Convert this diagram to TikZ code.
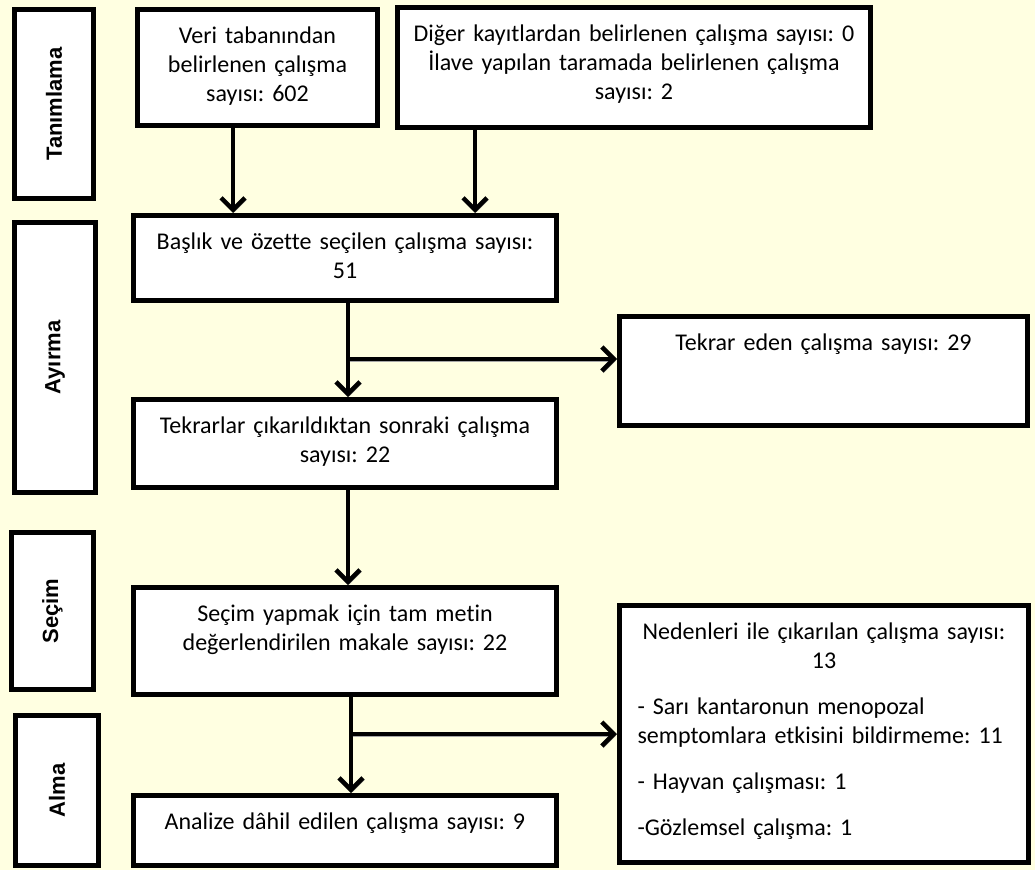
\documentclass[tikz,border=0pt]{standalone}
\usepackage{fontspec}
\setmainfont{Carlito}[Ligatures=NoCommon]
\newfontfamily\stagefont{Liberation Sans}
\usepackage{tikz}
\usetikzlibrary{arrows.meta,positioning}
\definecolor{paper}{RGB}{255,255,225}
\frenchspacing

\begin{document}
\begin{tikzpicture}[
        x=1pt, y=-1pt,
        >={Straight Barb[length=12pt,width=24pt]},
        box/.style={rectangle, draw, line width=5pt, fill=white, inner xsep=0pt, inner ysep=14pt, text height=20pt, align=center, font=\fontsize{24}{29}\selectfont},
        stagebox/.style={rectangle, draw, line width=5pt, fill=white, rotate=90, inner sep=0pt, font=\stagefont\bfseries\fontsize{22}{26}\selectfont},
        flowline/.style={->, line width=4.5pt, preaction={draw=black!35, transform canvas={shift={(1.5pt,-2pt)}}}},
        ]

        % Page background
        \fill[paper] (0,0) rectangle (1035,870);
        \useasboundingbox (0,0) rectangle (1035,870);

        % Stage labels on the left
        \node[stagebox, minimum width=189pt, minimum height=79pt] (tanim) at (54,104) {Tanımlama};
        \node[stagebox, minimum width=270pt, minimum height=81pt] (ayir) at (55,357.5) {Ayırma};
        \node[stagebox, minimum width=157pt, minimum height=82pt] (secim) at (52.5,611) {Seçim};
        \node[stagebox, minimum width=150pt, minimum height=83pt] (alma) at (57,790.5) {Alma};

        % Identification
        \node[box, text width=240pt, text depth=68pt] (veri) at (257.5,67.5) {Veri tabanından\\belirlenen çalışma\\sayısı: 602};
        \node[box, right=15pt of veri, text width=473pt, text depth=72pt] (diger) {Diğer kayıtlardan belirlenen çalışma sayısı: 0\\İlave yapılan taramada belirlenen çalışma\\sayısı: 2};

        % Main column
        \node[box, text width=423pt, text depth=37pt] (baslik) at (345,258) {Başlık ve özette seçilen çalışma sayısı:\\51};
        \node[box, below=94pt of baslik, text width=423pt, text depth=40pt] (tekrarlar) {Tekrarlar çıkarıldıktan sonraki çalışma\\sayısı: 22};
        \node[box, below=95pt of tekrarlar, text width=423pt, text depth=59pt] (secimyap) {Seçim yapmak için tam metin\\değerlendirilen makale sayısı: 22};
        \node[box, below=96pt of secimyap, text width=423pt, text depth=22pt] (analiz) {Analize dâhil edilen çalışma sayısı: 9};

        % Excluded records
        \node[box, text width=408pt, text depth=61pt] (tekrar) at (823.5,371) {Tekrar eden çalışma sayısı: 29};
        \node[box, align=left, inner xsep=18pt, text width=373pt, text depth=209pt] (neden) at (824,734) {{\centering Nedenleri ile çıkarılan çalışma sayısı:\\13\par}\vspace{17pt}- Sarı kantaronun menopozal\\semptomlara etkisini bildirmeme: 11\par\vspace{17pt}- Hayvan çalışması: 1\par\vspace{17pt}-Gözlemsel çalışma: 1};

        % Arrows
        \coordinate (vdrop) at ([xshift=-24.5pt]veri.south);
        \coordinate (ddrop) at ([xshift=-159pt]diger.south);
        \coordinate (trunk) at ([xshift=3pt]baslik.south);
        \coordinate (trunkb) at ([xshift=6pt]secimyap.south);
        \coordinate (tap) at ([yshift=12pt]tekrar.west);

        \draw[flowline] (vdrop) -- (vdrop |- baslik.north);
        \draw[flowline] (ddrop) -- (ddrop |- baslik.north);
        \draw[flowline] (trunk) -- (trunk |- tekrarlar.north);
        \draw[flowline] (trunk |- tap) -- (tap);
        \draw[flowline] (trunk |- tekrarlar.south) -- (trunk |- secimyap.north);
        \draw[flowline] (trunkb) -- (trunkb |- analiz.north);
        \draw[flowline] (trunkb |- neden.west) -- (neden.west);

    \end{tikzpicture}
\end{document}
